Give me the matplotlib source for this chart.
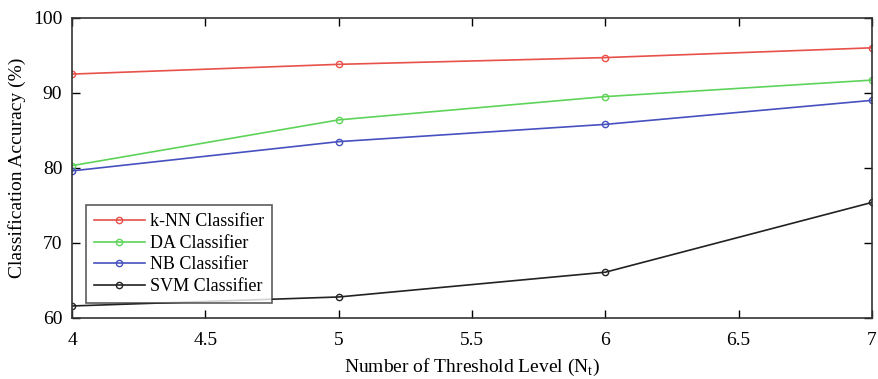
import numpy as np
import matplotlib.pyplot as plt

plt.rcParams['font.family'] = ['Liberation Serif', 'DejaVu Serif']

levels = [4, 5, 6, 7]
knn = [92.5, 93.8, 94.7, 96.0]
da = [80.3, 86.4, 89.5, 91.7]
nb = [79.6, 83.5, 85.8, 89.0]
svm = [61.6, 62.8, 66.1, 75.4]

fig = plt.figure(figsize=(8.79, 3.79), dpi=100)
ax = fig.add_axes([0.082, 0.161, 0.910, 0.792])

ax.plot(levels, knn, '-o', color='#e8504a', mfc='none', ms=4.5, lw=1.2, label='k-NN Classifier')
ax.plot(levels, da, '-o', color='#5ed35a', mfc='none', ms=4.5, lw=1.2, label='DA Classifier')
ax.plot(levels, nb, '-o', color='#4651bf', mfc='none', ms=4.5, lw=1.2, label='NB Classifier')
ax.plot(levels, svm, '-o', color='#222222', mfc='none', ms=4.5, lw=1.2, label='SVM Classifier')

ax.set_xlim(4, 7)
ax.set_ylim(60, 100)
ax.set_xticks([4, 4.5, 5, 5.5, 6, 6.5, 7])
ax.set_xticklabels(['4', '4.5', '5', '5.5', '6', '6.5', '7'])
ax.set_yticks([60, 70, 80, 90, 100])
ax.tick_params(direction='in', top=True, right=True, labelsize=14, length=6, width=1)
ax.tick_params(axis='x', pad=10)
ax.tick_params(axis='y', pad=7)
for s in ax.spines.values():
    s.set_linewidth(1.2)
    s.set_color('#333333')

ax.set_xlabel('Number of Threshold Level (N$_\\mathregular{t}$)', fontsize=14, labelpad=6)
ax.set_ylabel('Classification Accuracy (%)', fontsize=14, labelpad=5)

leg = ax.legend(loc='lower left', bbox_to_anchor=(0.0175, 0.05), borderaxespad=0, fontsize=13, frameon=True,
                fancybox=False, edgecolor='#333333', handlelength=2.8, borderpad=0.45,
                labelspacing=0.25, handletextpad=0.3)
leg.get_frame().set_linewidth(1.2)

plt.savefig('out.png', dpi=100)
